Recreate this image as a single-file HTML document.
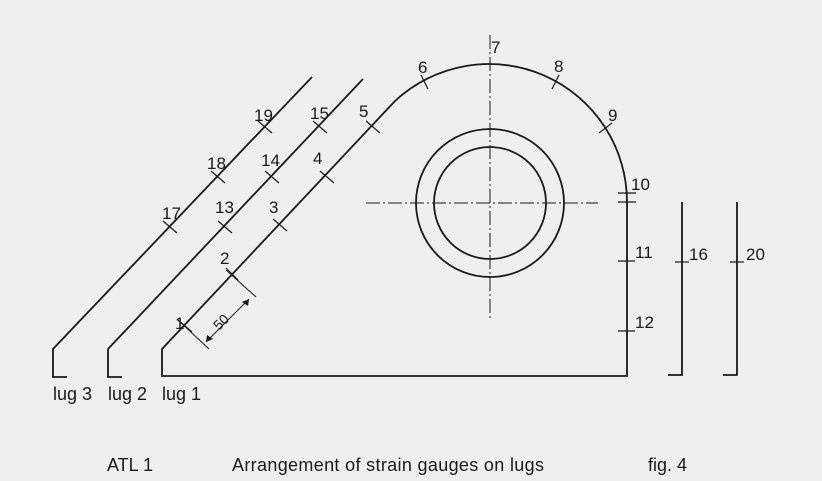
<!DOCTYPE html>
<html><head><meta charset="utf-8"><style>
html,body{margin:0;padding:0;background:#efefef;}
svg{display:block;font-family:"Liberation Sans",sans-serif;}
text{fill:#1a1a1a;}
</style></head><body>
<svg width="822" height="481" viewBox="0 0 822 481" xmlns="http://www.w3.org/2000/svg">
<rect width="822" height="481" fill="#efefef"/>
<g stroke="#1a1a1a" stroke-width="1.8" fill="none">
  <path d="M162,349 L395,101 A138,138 0 0,1 627,203 L627,376 L162,376 Z"/>
  <path d="M363,79 L108,349 L108,377 L122,377"/>
  <path d="M312,77 L53,349 L53,377 L67,377"/>
  <circle cx="490" cy="203" r="74"/>
  <circle cx="490" cy="203" r="56"/>
  <path d="M682,202 L682,375 L668,375"/>
  <path d="M737,202 L737,375 L723,375"/>
</g>
<g stroke="#1a1a1a" stroke-width="1" stroke-dasharray="14,3,2,3" fill="none">
  <line x1="490" y1="35" x2="490" y2="320"/>
  <line x1="366" y1="203" x2="598" y2="203"/>
</g>
<g stroke="#1a1a1a" stroke-width="1.2" fill="none">
  <line x1="178" y1="320" x2="192" y2="332"/>
  <line x1="226" y1="268" x2="238" y2="280"/>
  <line x1="273" y1="219" x2="287" y2="231"/>
  <line x1="320" y1="171" x2="334" y2="183"/>
  <line x1="366" y1="121" x2="380" y2="133"/>
  <line x1="218" y1="221" x2="232" y2="233"/>
  <line x1="265" y1="171" x2="279" y2="183"/>
  <line x1="313" y1="121" x2="327" y2="133"/>
  <line x1="163" y1="221" x2="177" y2="233"/>
  <line x1="211" y1="171" x2="225" y2="183"/>
  <line x1="258" y1="121" x2="272" y2="133"/>
  <line x1="421" y1="75" x2="428" y2="89"/>
  <line x1="559" y1="75" x2="552" y2="89"/>
  <line x1="612" y1="123" x2="599" y2="133"/>
  <line x1="618" y1="193" x2="636" y2="193"/>
  <line x1="618" y1="202" x2="636" y2="202"/>
  <line x1="618" y1="261" x2="635" y2="261"/>
  <line x1="618" y1="331" x2="635" y2="331"/>
  <line x1="675" y1="262" x2="689" y2="262"/>
  <line x1="730" y1="262" x2="744" y2="262"/>
</g>
<g stroke="#1a1a1a" stroke-width="1" fill="#1a1a1a">
  <line x1="178" y1="320" x2="209" y2="349" fill="none"/>
  <line x1="226" y1="270" x2="256" y2="297" fill="none"/>
  <line x1="206" y1="342" x2="249" y2="299" fill="none"/>
  <polygon points="206,342 207,335 213,339" stroke="none"/>
  <polygon points="249,299 248,306 242,302" stroke="none"/>
</g>
<text x="221" y="327" font-size="14" text-anchor="middle" transform="rotate(-45 221 322)">50</text>
<g font-size="17">
  <text x="175" y="329">1</text>
  <text x="220" y="264">2</text>
  <text x="269" y="213">3</text>
  <text x="313" y="164">4</text>
  <text x="359" y="117">5</text>
  <text x="418" y="73">6</text>
  <text x="491" y="53">7</text>
  <text x="554" y="72">8</text>
  <text x="608" y="121">9</text>
  <text x="631" y="190">10</text>
  <text x="635" y="258">11</text>
  <text x="635" y="328">12</text>
  <text x="215" y="213">13</text>
  <text x="261" y="166">14</text>
  <text x="310" y="119">15</text>
  <text x="689" y="260">16</text>
  <text x="162" y="219">17</text>
  <text x="207" y="169">18</text>
  <text x="254" y="121">19</text>
  <text x="746" y="260">20</text>
</g>
<g font-size="18">
  <text x="53" y="400">lug 3</text>
  <text x="108" y="400">lug 2</text>
  <text x="162" y="400">lug 1</text>
</g>
<text x="107" y="471" font-size="18">ATL 1</text>
<text x="232" y="471" font-size="18" textLength="312">Arrangement of strain gauges on lugs</text>
<text x="648" y="471" font-size="18">fig. 4</text>
</svg>
</body></html>
